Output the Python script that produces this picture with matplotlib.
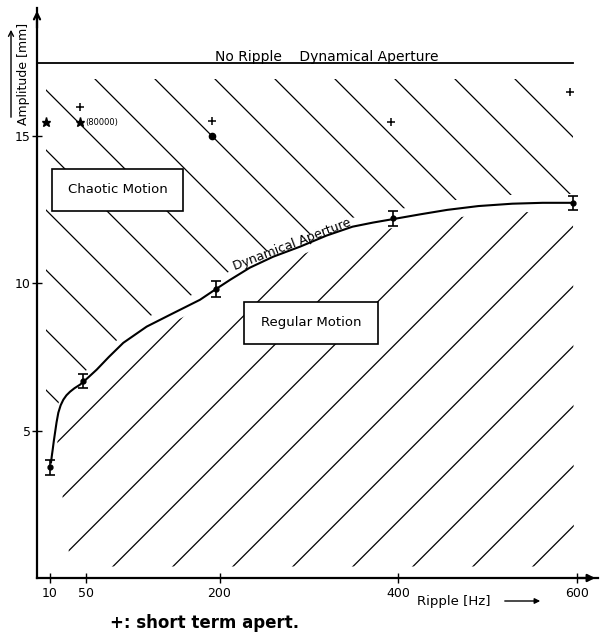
import numpy as np
import matplotlib
matplotlib.use('Agg')
import matplotlib.pyplot as plt
from matplotlib.patches import Polygon, Rectangle

plt.rcParams['font.family'] = ['DejaVu Sans']

# dynamical aperture with ripple (measured points with error bars)
ripple_hz = [10, 47, 196, 394, 596]
aperture_mm = [3.75, 6.69, 9.80, 12.20, 12.73]
aperture_err = [0.25, 0.24, 0.27, 0.24, 0.24]

# hand drawn curve through the points
curve_hz = [11.2, 12.0, 13.1, 14.3, 15.7, 17.4, 19.4, 22.0, 25.0, 28.5, 32.5, 37.5,
            43.7, 52.0, 62.4, 76.0, 92.2, 118.4, 144.5, 178.1, 194.8, 212, 234, 260,
            290, 320, 349, 372, 393, 425, 455, 490, 528, 562, 596]
curve_mm = [3.92, 4.12, 4.36, 4.64, 4.93, 5.28, 5.61, 5.86, 6.05, 6.20, 6.32, 6.44,
            6.56, 6.78, 7.07, 7.50, 7.98, 8.53, 8.93, 9.44, 9.78, 10.12, 10.53, 10.90,
            11.24, 11.62, 11.92, 12.06, 12.17, 12.34, 12.49, 12.62, 12.70, 12.73, 12.73]

# short term aperture (+) and long term points
short_hz = [44, 191, 392, 593]
short_mm = [15.98, 15.5, 15.47, 16.5]
long_star_hz = [6, 44]
long_star_mm = [15.47, 15.47]
long_dot_hz = [191]
long_dot_mm = [15.0]
turns_label = '(80000)'

no_ripple_mm = 17.47

xticks = [10, 50, 200, 400, 600]
yticks = [5, 10, 15]

fig = plt.figure(figsize=(6, 6.36), dpi=100)
ax = fig.add_axes([37/600, 58/636, 561/600, 570/636])
xlim = (-4.5, 624)
ylim = (0, 19.34)
ax.set_xlim(*xlim)
ax.set_ylim(*ylim)

for s in ['top', 'right']:
    ax.spines[s].set_visible(False)
for s in ['left', 'bottom']:
    ax.spines[s].set_linewidth(1.6)

ax.set_xticks(xticks)
ax.set_yticks(yticks)
ax.tick_params(axis='both', direction='inout', length=7, width=1, labelsize=9)
ax.tick_params(axis='y', pad=1)
ax.tick_params(axis='x', pad=3)

# axis arrows
ax.annotate('', xy=(1, 0), xytext=(0.96, 0), xycoords='axes fraction',
            arrowprops=dict(arrowstyle='-|>', color='k', lw=1.6, mutation_scale=11))
ax.annotate('', xy=(0, 1), xytext=(0, 0.96), xycoords='axes fraction',
            arrowprops=dict(arrowstyle='->', color='k', lw=1.6, mutation_scale=11))

# hatching geometry: 45 degree lines in pixel space
px_hz = 561 / (xlim[1] - xlim[0])
px_mm = 570 / (ylim[1] - ylim[0])
slope = px_hz / px_mm
spacing = 60 / px_hz
gap = 0.3

cz = np.array(curve_hz)
cm = np.array(curve_mm)

hatch_top = 16.93
hatch_bot = 0.39
upper_pts = [(5.6, hatch_top), (596, hatch_top)]
upper_pts += list(zip(cz[::-1], cm[::-1] + gap))
upper_pts += [(5.6, 4.6)]
upper = Polygon(upper_pts, closed=True, transform=ax.transData)

lower_pts = [(18, 4.4), (33, hatch_bot), (597, hatch_bot)]
keep = cz >= 19
lower_pts += list(zip(cz[keep][::-1], cm[keep][::-1] - gap))
lower = Polygon(lower_pts, closed=True, transform=ax.transData)

f0 = 60.5
for k in range(-12, 12):
    x0 = f0 + k * spacing
    fs = np.array([x0 - 800, x0 + 800])
    ln, = ax.plot(fs, hatch_top - slope * (fs - x0), color='k', lw=0.9, zorder=1)
    ln.set_clip_path(upper)

g0 = 147.8
for k in range(-14, 10):
    x0 = g0 + k * spacing
    fs = np.array([x0 - 800, x0 + 800])
    ln, = ax.plot(fs, hatch_bot + slope * (fs - x0), color='k', lw=0.9, zorder=1)
    ln.set_clip_path(lower)

# no ripple aperture
ax.plot([xlim[0], 596], [no_ripple_mm, no_ripple_mm], color='k', lw=1.3, zorder=2)
ax.text(320, no_ripple_mm + 0.07, 'No Ripple    Dynamical Aperture', ha='center',
        va='baseline', fontsize=10)

# curve and data
ax.plot(curve_hz, curve_mm, color='k', lw=1.5, zorder=4)
ax.errorbar(ripple_hz, aperture_mm, yerr=aperture_err, fmt='o', color='k', ms=3.5,
            capsize=3.5, elinewidth=1.2, capthick=1.2, zorder=5)
ax.text(283, 11.2, 'Dynamical Aperture', rotation=21, rotation_mode='anchor',
        ha='center', va='baseline', fontsize=9, zorder=5)

ax.plot(short_hz, short_mm, '+', color='k', ms=6, mew=1.1, zorder=5)
ax.plot(long_star_hz, long_star_mm, '*', color='k', ms=6.5, zorder=5)
ax.plot(long_dot_hz, long_dot_mm, 'o', color='k', ms=4.5, zorder=5)
ax.annotate(turns_label, (long_star_hz[1], long_star_mm[1]), xytext=(3.5, 0),
            textcoords='offset points', va='center', fontsize=6)

# region boxes
ax.add_patch(Rectangle((12.3, 12.45), 159.1 - 12.3, 13.88 - 12.45, facecolor='white',
                       edgecolor='k', lw=1.2, zorder=3))
ax.text((12.3 + 159.1) / 2, (12.45 + 13.88) / 2, 'Chaotic Motion', ha='center',
        va='center', fontsize=9.5, zorder=4)
ax.add_patch(Rectangle((227.4, 7.94), 377.5 - 227.4, 9.37 - 7.94, facecolor='white',
                       edgecolor='k', lw=1.2, zorder=3))
ax.text((227.4 + 377.5) / 2, (7.94 + 9.37) / 2, 'Regular Motion', ha='center',
        va='center', fontsize=9.5, zorder=4)

# axis labels with arrows
fig.text(24/600, (636 - 74)/636, 'Amplitude [mm]', rotation=90, ha='center',
         va='center', fontsize=9)
ax.annotate('', xy=(11/600, (636 - 27)/636), xytext=(11/600, (636 - 120)/636),
            xycoords='figure fraction',
            arrowprops=dict(arrowstyle='->', color='k', lw=1.0, mutation_scale=9))
fig.text(417/600, (636 - 601)/636, 'Ripple [Hz]', ha='left', va='center', fontsize=9.5)
ax.annotate('', xy=(543/600, (636 - 601)/636), xytext=(502/600, (636 - 601)/636),
            xycoords='figure fraction',
            arrowprops=dict(arrowstyle='-|>', color='k', lw=1.0, mutation_scale=8))

fig.text(110/600, (636 - 623)/636, '+: short term apert.', ha='left', va='center',
         fontsize=12, fontweight='bold', family='DejaVu Sans')

fig.savefig('out.png', dpi=100)
